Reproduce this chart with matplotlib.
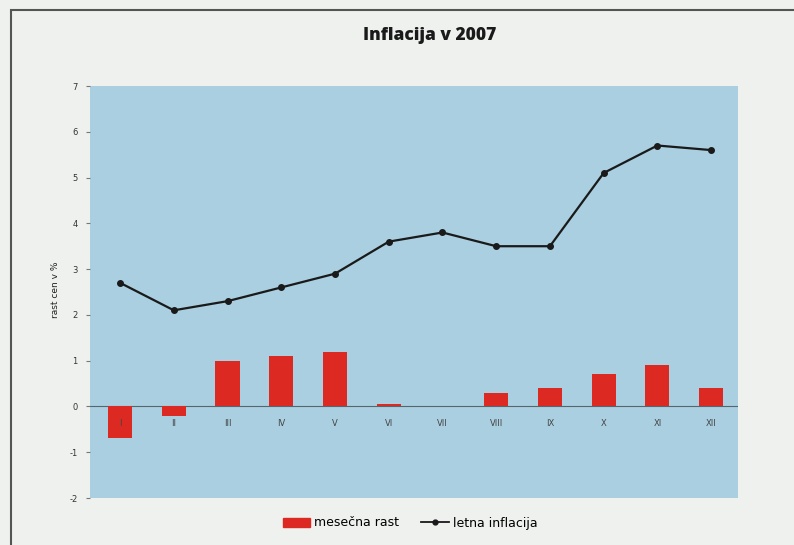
import matplotlib.pyplot as plt
import numpy as np
from matplotlib.patches import Rectangle
from matplotlib.lines import Line2D

months = ['I', 'II', 'III', 'IV', 'V', 'VI', 'VII', 'VIII', 'IX', 'X', 'XI', 'XII']
mesecna = [-0.7, -0.2, 1.0, 1.1, 1.2, 0.05, 0.0, 0.3, 0.4, 0.7, 0.9, 0.4]
letna = [2.7, 2.1, 2.3, 2.6, 2.9, 3.6, 3.8, 3.5, 3.5, 5.1, 5.7, 5.6]
yticks = [-2, -1, 0, 1, 2, 3, 4, 5, 6, 7]

bg = '#eef1ee'
plot_bg = '#a9cfe0'
red = '#dc2a22'

fig = plt.figure(figsize=(7.94, 5.45), dpi=100, facecolor=bg)
# outer frame
fig.patches.append(Rectangle((11 / 794, -0.05), 1.0, 1.0 - 10 / 545 + 0.05,
                             transform=fig.transFigure, fill=False,
                             edgecolor='#555555', linewidth=1.5))

ax = fig.add_axes([90 / 794, 1 - 498 / 545, 648 / 794, (498 - 86) / 545])
ax.set_facecolor(plot_bg)
x = np.arange(len(months))

ax.bar(x, mesecna, width=0.45, color=red, zorder=2)
ax.plot(x, letna, color='#1a1a1a', linewidth=1.6, marker='o', markersize=4, zorder=3)
ax.axhline(0, color='#556670', linewidth=0.8, zorder=1)

for xi, m in zip(x, months):
    ax.text(xi, -0.38, m, ha='center', va='center', fontsize=6, color='#444444', zorder=4)

ax.set_xlim(-0.56, 11.5)
ax.set_ylim(-2, 7)
ax.set_yticks(yticks)
ax.set_yticklabels([str(t) for t in yticks], fontsize=6, color='#333333')
ax.set_xticks([])
ax.tick_params(axis='y', length=3, color='#777777', pad=6)
for s in ax.spines.values():
    s.set_visible(False)

fig.text(55 / 794, 1 - 290 / 545, 'rast cen v %', rotation=90, ha='center', va='center',
         fontsize=6.5, color='#222222')
fig.text(430 / 794, 1 - 36 / 545, 'Inflacija v 2007', ha='center', va='center',
         fontsize=12.5, fontweight='heavy', color='#1a1a1a', family='Open Sans')

handles = [Rectangle((0, 0), 1, 1, color=red),
           Line2D([], [], color='#1a1a1a', marker='o', markersize=3.5, linewidth=1.3)]
fig.legend(handles, ['mesečna rast', 'letna inflacija'], loc='center',
           bbox_to_anchor=(410 / 794, 1 - 523 / 545), ncol=2, frameon=False,
           fontsize=9, handlelength=2.2, handletextpad=0.3, columnspacing=1.8)

fig.savefig('out.png', dpi=100, facecolor=bg)
